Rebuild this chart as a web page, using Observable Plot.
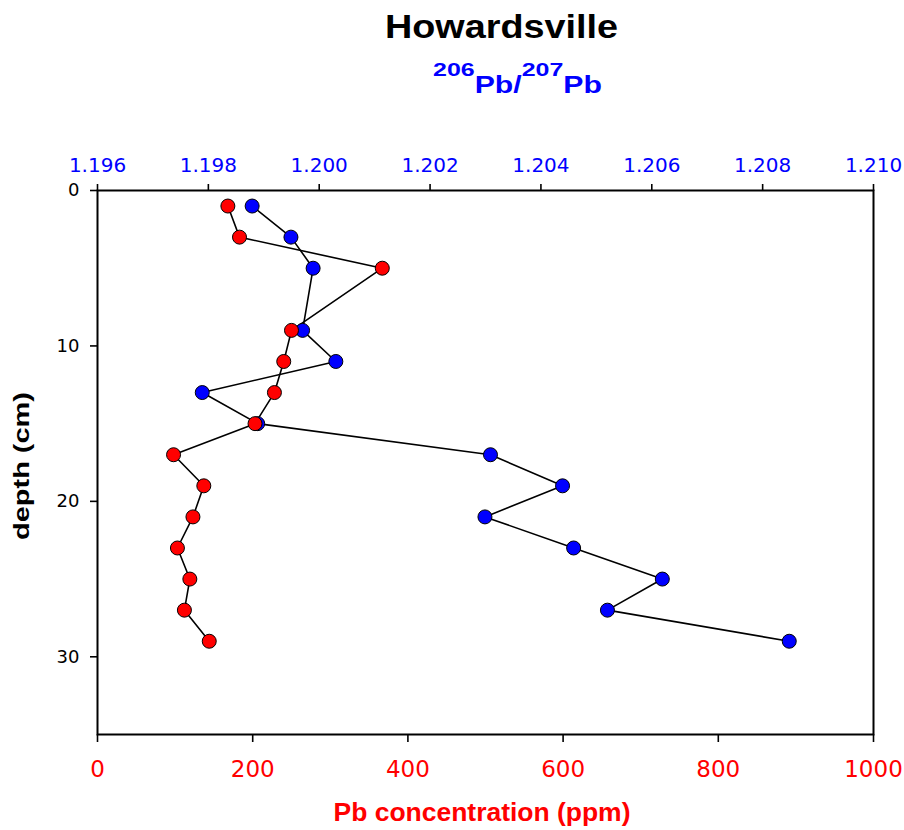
<!DOCTYPE html>
<html>
<head>
<meta charset="utf-8">
<script src="https://cdn.jsdelivr.net/npm/d3@7"></script>
<script src="https://cdn.jsdelivr.net/npm/@observablehq/plot@0.6"></script>
<style>
  body { margin: 0; background: #fff; }
  #chart { position: relative; width: 904px; height: 830px; }
</style>
</head>
<body>
<div id="chart"></div>
<script>
// ---- data ----
const depth   = [1, 3, 5, 9, 11, 13, 15, 17, 19, 21, 23, 25, 27, 29];
const pbConc  = [168, 183, 367, 250, 240, 228, 203, 98, 137, 123, 103, 119, 112, 144];
const pbRatio = [1.19879, 1.19949, 1.19989, 1.19970, 1.20030, 1.19789, 1.19889,
                 1.20309, 1.20439, 1.20299, 1.20459, 1.20619, 1.20520, 1.20848];

const pbTicks    = [0, 200, 400, 600, 800, 1000];
const ratioTicks = [1.196, 1.198, 1.200, 1.202, 1.204, 1.206, 1.208, 1.210];
const depthTicks = [0, 10, 20, 30];

const pbDomain    = [0, 1000];
const ratioDomain = [1.196, 1.210];
const depthDomain = [0, 35];

const titleText  = "Howardsville";
const xLabelText = "Pb concentration (ppm)";
const yLabelText = "depth (cm)";

// map ratio onto the shared x scale (top axis is a secondary scale)
const toPb = r => pbDomain[0] + (r - ratioDomain[0]) / (ratioDomain[1] - ratioDomain[0]) * (pbDomain[1] - pbDomain[0]);
const fromPb = v => ratioDomain[0] + (v - pbDomain[0]) / (pbDomain[1] - pbDomain[0]) * (ratioDomain[1] - ratioDomain[0]);

const concData  = depth.map((d, i) => ({depth: d, x: pbConc[i]}));
const ratioData = depth.map((d, i) => ({depth: d, x: toPb(pbRatio[i])}));

const RED = "#ff0000", BLUE = "#0000ff";

const svg = Plot.plot({
  width: 904,
  height: 830,
  marginLeft: 97,
  marginRight: 31,
  marginTop: 190,
  marginBottom: 96,
  style: {fontFamily: "'DejaVu Sans', sans-serif", background: "#fff", overflow: "visible"},
  x: {domain: pbDomain, label: null},
  y: {domain: depthDomain, reverse: true, label: null},
  marks: [
    Plot.line(ratioData, {x: "x", y: "depth", stroke: "black", strokeWidth: 1.6}),
    Plot.line(concData,  {x: "x", y: "depth", stroke: "black", strokeWidth: 1.6}),
    Plot.dot(ratioData, {x: "x", y: "depth", r: 7, fill: BLUE, stroke: "black", strokeWidth: 1}),
    Plot.dot(concData,  {x: "x", y: "depth", r: 7, fill: RED,  stroke: "black", strokeWidth: 1}),
    Plot.frame({stroke: "black", strokeWidth: 2}),
    Plot.axisY(depthTicks, {anchor: "left", tickSize: 7, tickPadding: 11, fontSize: 18,
                            color: "black", stroke: "black", strokeWidth: 1.6, label: null,
                            tickFormat: d => String(d)}),
    Plot.axisX(pbTicks, {anchor: "bottom", tickSize: 8, tickPadding: 18, fontSize: 23,
                         color: RED, stroke: "black", strokeWidth: 1.6, label: null,
                         tickFormat: d => String(d)}),
    Plot.axisX(ratioTicks.map(toPb), {anchor: "top", tickSize: 7, tickPadding: 12, fontSize: 20,
                         color: BLUE, stroke: "black", strokeWidth: 1.6, label: null,
                         tickFormat: v => fromPb(v).toFixed(3)})
  ]
});

document.getElementById("chart").appendChild(svg);

const s = d3.select(svg);
const BOLD = "'Liberation Sans', Arial, sans-serif";

// scale factor so that a text spans `target` px
function stretched(g, target) {
  const w = g.node().getBBox().width;
  return w > 0 ? target / w : 1;
}

// Title
const title = s.append("text")
  .attr("text-anchor", "middle")
  .attr("font-family", BOLD).attr("font-weight", "bold").attr("font-size", 34)
  .attr("fill", "black").text(titleText);
let k = stretched(title, 233);
title.attr("transform", `translate(501.5,38) scale(${k},1)`);

// Subtitle 206Pb/207Pb
const sub = s.append("text")
  .attr("text-anchor", "middle")
  .attr("font-family", BOLD).attr("font-weight", "bold").attr("font-size", 23)
  .attr("fill", BLUE);
sub.append("tspan").attr("font-size", 19).attr("dy", -17).text("206");
sub.append("tspan").attr("dy", 17).text("Pb/");
sub.append("tspan").attr("font-size", 19).attr("dy", -17).text("207");
sub.append("tspan").attr("dy", 17).text("Pb");
k = stretched(sub, 169);
sub.attr("transform", `translate(517.5,93) scale(${k},1)`);

// x-axis title
const xl = s.append("text")
  .attr("text-anchor", "middle")
  .attr("font-family", BOLD).attr("font-weight", "bold").attr("font-size", 25)
  .attr("fill", RED).text(xLabelText);
k = stretched(xl, 297);
xl.attr("transform", `translate(482,821) scale(${k},1)`);

// y-axis title
const yl = s.append("text")
  .attr("text-anchor", "middle")
  .attr("font-family", BOLD).attr("font-weight", "bold").attr("font-size", 22)
  .attr("fill", "black").text(yLabelText);
k = stretched(yl, 148);
yl.attr("transform", `translate(29,466) rotate(-90) scale(${k},1)`);
</script>
</body>
</html>
